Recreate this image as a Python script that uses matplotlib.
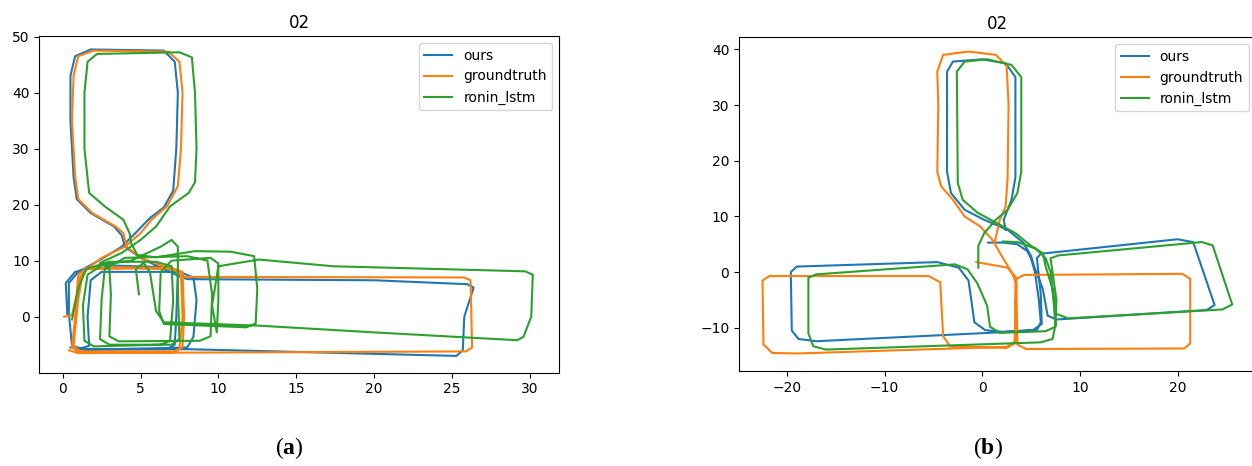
import matplotlib
matplotlib.use("Agg")
import matplotlib.pyplot as plt

# ---- panel (a) trajectories ----
a_ours_x = [0.3, 0.2, 0.8, 2.5, 7.0, 7.4, 7.3, 7.2, 6.7, 1.0, 1.7, 1.6, 1.8, 2.5, 7.5, 8.4, 8.6, 8.4, 8.0,
            1.5, 0.6, 0.4, 0.4, 1.0, 2.5, 3.8, 4.7, 5.6, 6.5, 7.1, 7.3, 7.4, 7.2, 6.5, 1.8, 0.8, 0.5, 0.5,
            0.7, 0.9, 1.8, 3.3, 3.8, 4.0, 5.0, 6.5, 7.5, 8.0, 20.0, 26.0, 26.4, 25.8, 25.7, 25.3, 8.0, 1.2, 0.5]
a_ours_y = [0.5, 6.0, 8.0, 9.2, 8.8, 7.8, 0.0, -5.0, -5.8, -5.8, -5.2, 0.0, 6.5, 8.0, 8.0, 7.0, 3.0, -3.6, -5.5,
            -5.9, -5.2, 0.5, 6.0, 8.0, 10.3, 12.5, 15.0, 17.6, 19.5, 22.5, 30.0, 40.0, 45.5, 47.5, 47.7, 46.5, 43.0, 35.0,
            25.0, 21.0, 18.5, 16.1, 14.5, 12.5, 10.5, 8.5, 7.2, 6.7, 6.5, 5.8, 5.2, 0.0, -6.0, -7.0, -5.8, -5.8, -5.5]

a_gt_x = [0.1, 0.6, 0.9, 1.0, 1.5, 4.0, 7.0, 7.7, 7.8, 7.7, 7.2, 1.0, 0.6, 0.8, 1.1, 1.6, 4.5, 7.1, 7.6, 7.7,
          7.5, 7.0, 1.2, 0.7, 1.0, 1.3, 2.5, 4.0, 5.0, 5.7, 6.7, 7.4, 7.6, 7.7, 7.5, 6.8, 2.0, 1.0, 0.7, 0.6,
          0.8, 1.0, 1.9, 3.4, 3.9, 4.1, 5.0, 6.5, 7.5, 7.8, 25.8, 26.2, 26.3, 25.9, 1.0, 0.4]
a_gt_y = [0.0, 0.3, 4.0, 7.5, 8.7, 8.8, 8.7, 8.0, 0.0, -5.5, -6.2, -6.2, -5.5, 0.0, 7.0, 8.5, 8.6, 8.5, 7.5, 0.0,
          -5.8, -6.4, -6.4, -5.2, 3.0, 8.0, 10.5, 12.5, 14.9, 17.3, 19.7, 23.3, 30.0, 40.0, 45.5, 47.3, 47.5, 46.5, 43.0, 35.0,
          25.0, 21.0, 18.5, 16.1, 14.9, 12.5, 10.5, 9.0, 8.0, 7.1, 7.0, 6.5, -5.5, -6.2, -6.5, -6.0]

a_ronin_x = [0.6, 1.0, 1.5, 3.0, 6.0, 7.0, 7.1, 6.9, 6.3, 2.0, 1.4, 1.3, 1.6, 2.6, 4.4, 6.3, 7.0, 7.4, 7.4,
             7.5, 7.0, 3.0, 2.4, 2.5, 2.7, 4.0, 8.0, 9.3, 9.6, 9.5, 8.8, 3.6, 3.0, 3.1, 3.0, 2.4, 3.8, 5.0,
             6.0, 6.9, 8.1, 8.5, 8.6, 8.5, 8.3, 7.5, 2.2, 1.6, 1.4, 1.4, 1.7, 2.7, 3.9, 4.3, 4.4, 4.8, 6.0,
             8.5, 10.8, 12.3, 12.5, 12.4, 11.8, 6.5, 6.2, 6.3, 7.0, 9.5, 10.0, 10.0, 9.9, 9.6, 10.0, 12.6,
             17.4, 29.7, 30.2, 30.1, 29.6, 29.2, 20.0, 12.6, 6.5, 6.0, 5.6, 5.2, 4.7, 4.9]
a_ronin_y = [-0.5, 5.0, 8.5, 9.8, 9.8, 9.0, 3.0, -4.3, -5.0, -5.3, -4.3, 2.0, 7.5, 9.3, 10.0, 12.5, 13.7, 12.5, 5.0,
             -4.0, -5.0, -5.0, -4.0, 3.0, 8.5, 10.5, 10.8, 10.0, 4.0, -3.5, -4.3, -4.4, -3.5, 4.0, 8.5, 9.6, 11.4, 13.7,
             16.1, 19.7, 22.1, 24.0, 30.0, 40.0, 46.3, 47.2, 46.9, 45.5, 40.0, 30.0, 22.1, 19.7, 17.3, 14.9, 13.1, 11.0, 10.6,
             11.7, 11.6, 10.8, 5.0, -1.2, -1.9, -1.3, 1.0, 8.0, 10.0, 10.5, 9.5, 3.0, -2.8, 2.0, 9.0, 10.2,
             9.0, 8.1, 7.5, 0.0, -3.6, -4.2, -2.8, -1.6, -1.0, 1.0, 8.0, 9.6, 8.5, 4.0]

# ---- panel (b) trajectories ----
b_ours_x = [0.6, 2.2, 3.6, 4.6, 5.0, 5.4, 5.8, 6.0, 5.6, 3.0, -17.0, -18.8, -19.5, -19.6, -19.0, -4.6, -2.4,
            -1.4, -0.8, 0.3, 2.0, 5.2, 6.1, 6.0, 5.6, 6.0, 20.0, 21.6, 23.8, 23.0, 7.6, 6.7, 6.2, 5.3, 5.0,
            4.2, 2.6, 0.2, -1.8, -3.2, -3.6, -3.6, -3.0, 0.0, 2.4, 3.4, 3.4, 3.0, 2.2, 2.4]
b_ours_y = [5.3, 5.3, 5.0, 3.8, 2.5, 0.0, -5.0, -9.0, -10.4, -10.7, -12.4, -12.0, -10.5, 0.0, 1.0, 1.8, 0.8,
            -1.5, -9.0, -10.4, -10.7, -10.4, -9.3, -4.0, 2.5, 3.3, 5.9, 5.4, -5.9, -6.8, -8.5, -7.8, -3.0, 1.1, 2.9,
            5.3, 7.6, 9.4, 11.2, 14.2, 18.0, 36.0, 37.8, 38.2, 37.5, 35.0, 17.0, 13.0, 9.4, 7.6]

b_gt_x = [-0.6, 2.6, 3.4, 3.4, 2.5, -19.0, -21.5, -22.4, -22.5, -21.8, -5.5, -4.3, -4.0, -3.3, 2.5, 3.3,
          3.5, 4.3, 20.5, 21.3, 21.3, 20.7, 4.5, 3.6, 3.5, 3.0, 2.0, 1.0, -0.2, -1.8, -3.0, -4.2, -4.6,
          -4.5, -4.6, -4.0, -1.4, 1.4, 2.5, 2.7, 2.6, 2.4, 1.8, 1.3]
b_gt_y = [1.8, 0.8, -0.8, -12.5, -13.4, -14.6, -14.5, -13.0, -1.5, -0.7, -0.7, -1.8, -11.5, -13.3, -13.6, -12.8,
          -1.2, -0.5, -0.3, -1.2, -12.8, -13.7, -13.8, -13.0, -2.0, 0.0, 2.9, 5.9, 8.2, 10.0, 13.0, 15.4, 18.0,
          30.0, 36.0, 39.0, 39.6, 39.0, 37.0, 30.0, 17.0, 11.8, 9.4, 5.5]

b_ronin_x = [2.1, 3.6, 5.5, 6.5, 7.0, 7.3, 7.5, 7.2, 6.0, -16.0, -17.3, -17.8, -17.8, -17.0, -2.8, -1.5,
             -0.5, 0.5, 0.8, 1.8, 6.5, 7.5, 7.6, 7.2, 7.0, 7.8, 22.5, 23.6, 25.6, 24.6, 8.8, 7.6, 7.2, 6.5,
             6.2, 5.0, 3.4, 1.5, -0.5, -2.0, -2.5, -2.6, -1.8, 0.5, 3.0, 4.0, 4.0, 3.6, 2.6, 1.4, 0.2,
             -0.4, -0.4]
b_ronin_y = [5.5, 5.4, 4.2, 2.5, 0.0, -5.0, -9.5, -12.0, -12.6, -13.9, -13.3, -11.0, -1.0, -0.4, 1.4, 0.5,
             -2.0, -6.0, -9.8, -10.9, -10.6, -9.8, -5.0, 0.0, 2.5, 3.0, 5.4, 4.8, -5.8, -6.7, -8.3, -7.5, -3.0, 1.0,
             3.4, 4.7, 7.0, 8.8, 10.7, 13.0, 16.0, 36.0, 37.8, 38.2, 37.2, 35.0, 18.0, 14.2, 11.2, 9.4, 7.0,
             4.7, 0.8]

labels = ["ours", "groundtruth", "ronin_lstm"]

plt.rcParams["mathtext.fontset"] = "custom"
plt.rcParams["mathtext.rm"] = "Liberation Serif"
plt.rcParams["mathtext.bf"] = "Liberation Serif:bold"

fig = plt.figure(figsize=(12.52, 4.66), dpi=100)

ax1 = fig.add_axes([0.0314, 0.2002, 0.4153, 0.7225])
ax1.plot(a_ours_x, a_ours_y, label=labels[0])
ax1.plot(a_gt_x, a_gt_y, label=labels[1])
ax1.plot(a_ronin_x, a_ronin_y, label=labels[2])
ax1.set_xlim(-1.5, 31.9)
ax1.set_ylim(-10.0, 50.1)
ax1.set_xticks([0, 5, 10, 15, 20, 25, 30])
ax1.set_yticks([0, 10, 20, 30, 40, 50])
ax1.set_title("02")
ax1.legend(loc="upper right")

ax2 = fig.add_axes([0.5903, 0.2032, 0.4126, 0.7167])
ax2.plot(b_ours_x, b_ours_y, label=labels[0])
ax2.plot(b_gt_x, b_gt_y, label=labels[1])
ax2.plot(b_ronin_x, b_ronin_y, label=labels[2])
ax2.set_xlim(-24.9, 28.0)
ax2.set_ylim(-17.8, 42.15)
ax2.set_xticks([-20, -10, 0, 10, 20])
ax2.set_yticks([-10, 0, 10, 20, 30, 40])
ax2.set_title("02")
ax2.legend(loc="upper right")

# panel captions
fig.text(289 / 1252, 1 - 448 / 466, r"$(\mathbf{a})$", ha="center", va="center", fontsize=17)
fig.text(988 / 1252, 1 - 448 / 466, r"$(\mathbf{b})$", ha="center", va="center", fontsize=17)

fig.savefig("out.png", dpi=100, facecolor="white")
